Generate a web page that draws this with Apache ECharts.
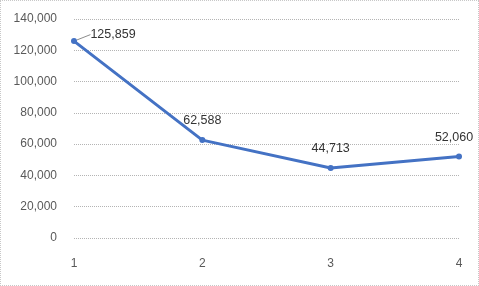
<!DOCTYPE html>
<html>
<head>
<meta charset="utf-8">
<script src="https://cdn.jsdelivr.net/npm/echarts@6/dist/echarts.min.js"></script>
<style>
  html, body { margin: 0; padding: 0; background: #fff; }
  #chart { width: 479px; height: 286px; box-sizing: border-box; border: 1px dotted #c8c8c8; }
</style>
</head>
<body>
<div id="chart"></div>
<script>
const categories = ['1', '2', '3', '4'];
const values = [125859, 62588, 44713, 52060];

const chart = echarts.init(document.getElementById('chart'));

const option = {
  animation: false,
  grid: { left: 73, right: 19, top: 18, bottom: 47 },
  xAxis: {
    type: 'category',
    data: categories,
    boundaryGap: false,
    axisLine: { show: false },
    axisTick: { show: false },
    axisLabel: { color: '#595959', fontSize: 12, fontFamily: 'Liberation Sans', margin: 20 },
  },
  yAxis: {
    type: 'value',
    min: 0,
    max: 140000,
    interval: 20000,
    axisLine: { show: false },
    axisTick: { show: false },
    axisLabel: {
      color: '#595959',
      fontSize: 12,
      fontFamily: 'Liberation Sans',
      margin: 17,
      formatter: (v) => v.toLocaleString('en-US'),
    },
    splitLine: { lineStyle: { color: '#b4b4b4', type: [1, 1], width: 1 } },
  },
  series: [
    {
      type: 'line',
      // only the first point gets a leader line, like the original
      data: values.map((v, i) => (i === 0 ? { value: v, labelLine: { show: true } } : v)),
      symbol: 'circle',
      symbolSize: 6,
      lineStyle: { width: 3, color: '#4472C4' },
      itemStyle: { color: '#4472C4' },
      label: {
        show: true,
        position: 'top',
        distance: 10,
        color: '#333',
        fontSize: 12.5,
        fontFamily: 'Liberation Sans',
        formatter: (p) => p.value.toLocaleString('en-US'),
      },
      labelLayout: (params) => {
        if (params.dataIndex === 0) return { dx: 39, dy: 13 };
        if (params.dataIndex === 3) return { dx: -5 };
        return {};
      },
      labelLine: { show: false, lineStyle: { color: '#8c8c8c', width: 1 } },
    },
  ],
};

chart.setOption(option);
</script>
</body>
</html>
